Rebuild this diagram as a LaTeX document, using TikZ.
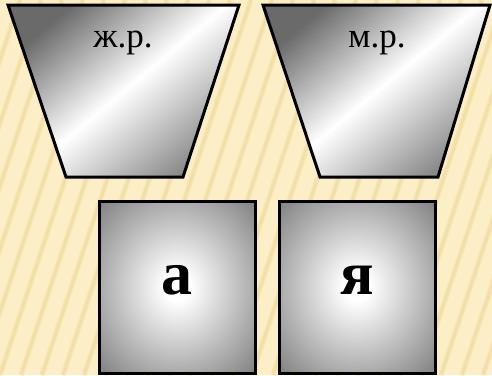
\documentclass[tikz,border=0pt]{standalone}
\usepackage{fontspec}
\setmainfont{Liberation Serif}
\definecolor{bgcol}{HTML}{FCEFC8}
\definecolor{stripe}{HTML}{F2DDA4}
\definecolor{darkg}{HTML}{6A6A6A}
\definecolor{midg}{HTML}{8A8A8A}
\definecolor{boxg}{HTML}{7E7E7E}
\pgfdeclareradialshading{sqshade}{\pgfpoint{0bp}{0bp}}{color(0bp)=(white); color(4bp)=(white); color(36bp)=(boxg); color(50bp)=(boxg)}
\tikzset{
  trap/.style={draw=black, line width=3pt, line join=miter, top color=darkg, bottom color=midg, middle color=white, shading angle=40},
  sq/.style={draw=black, line width=3pt, shading=sqshade},
  lbl/.style={font=\fontsize{35}{38}\selectfont, inner sep=0pt},
  big/.style={font=\fontsize{62}{66}\selectfont\bfseries, inner sep=0pt}
}
\begin{document}
\begin{tikzpicture}[x=1pt,y=-1pt]
\useasboundingbox (0,0) rectangle (492,375);
\fill[bgcol] (0,0) rectangle (492,375);
\begin{scope}
\clip (0,0) rectangle (492,375);
\foreach \i in {-8,...,30} {
  \draw[stripe, line width=5pt, opacity=0.6] (\i*21,375) -- ++(125,-375);
  \draw[stripe, line width=2pt, opacity=0.8] (\i*21,375) -- ++(125,-375);
}
\end{scope}
% trapezoids
\shade[trap] (8,5) -- (239,5) -- (183,177) -- (66,177) -- cycle;
\shade[trap] (263,5) -- (490,5) -- (438,177) -- (320,177) -- cycle;
\node[lbl] (fem) at (123,43) {ж.р.};
\node[lbl] (masc) at (377,43) {м.р.};
% squares
\shade[sq] (99,201) rectangle (255,373);
\shade[sq] (279,201) rectangle (435,373);
\node[big] (a) at (177,280) {а};
\node[big] (ya) at (357,280) {я};
\end{tikzpicture}
\end{document}
